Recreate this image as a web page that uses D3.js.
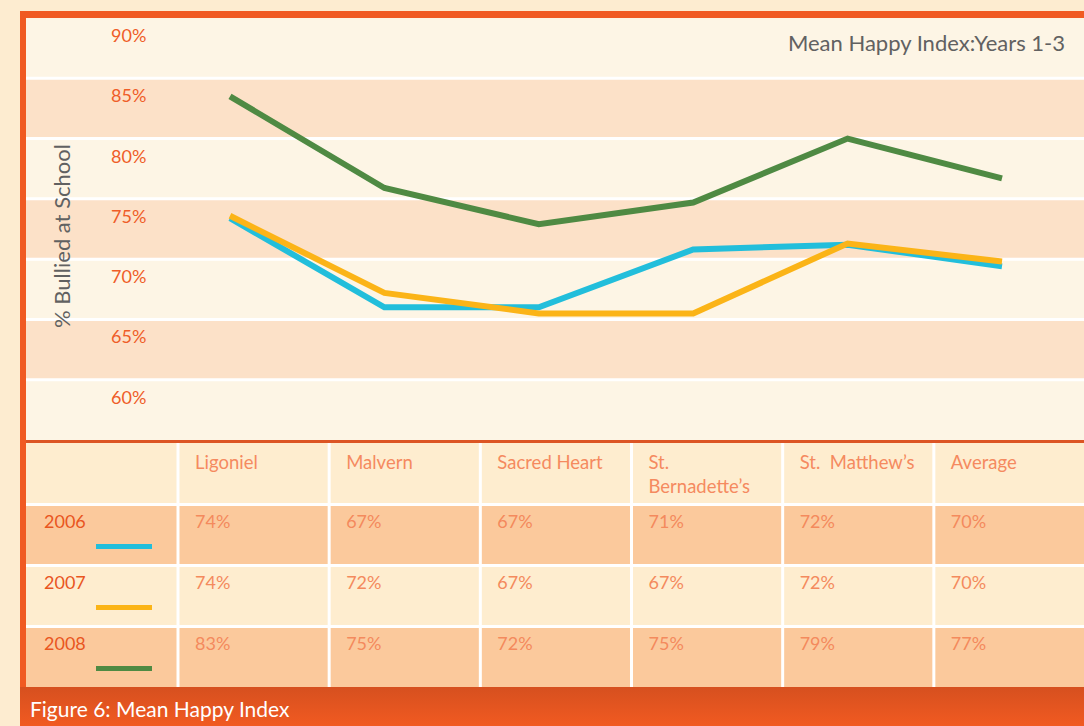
<!DOCTYPE html>
<html>
<head>
<meta charset="utf-8">
<script src="https://cdn.jsdelivr.net/npm/d3@7"></script>
<style>
  body { margin: 0; background: #fdecd0; }
  svg { display: block; font-family: Lato, "Open Sans", sans-serif; }
</style>
</head>
<body>
<svg id="chart" width="1084" height="726"></svg>
<script>
// schools along the x axis, and what the table header shows for them
const schools = ['Ligoniel', 'Malvern', 'Sacred Heart', "St. Bernadette's", "St. Matthew's", 'Average'];
const headerLabels = [['Ligoniel'], ['Malvern'], ['Sacred Heart'], ['St.', 'Bernadette\u2019s'], ['St.\u00a0 Matthew\u2019s'], ['Average']];
const years = ['2006', '2007', '2008'];

// values as printed in the table
const table2006 = [74, 67, 67, 71, 72, 70];
const table2007 = [74, 72, 67, 67, 72, 70];
const table2008 = [83, 75, 72, 75, 79, 77];

// values as the lines are actually plotted
const line2006 = [73.4, 66.0, 66.0, 70.8, 71.2, 69.4];
const line2007 = [73.6, 67.2, 65.5, 65.5, 71.3, 69.8];
const line2008 = [83.5, 75.9, 72.9, 74.7, 80.0, 76.7];

const yTicks = [60, 65, 70, 75, 80, 85, 90];
const yLabel = '% Bullied at School';
const title = 'Mean Happy Index:Years 1-3';
const caption = 'Figure 6: Mean Happy Index';

const colors = {'2006': '#22bedb', '2007': '#fbb417', '2008': '#4f8a43'};

const svg = d3.select('#chart');
const width = +svg.attr('width');
const height = +svg.attr('height');

const frame = {left: 20, top: 11, border: 6};
const plot = {left: 26, top: 17, right: width, bottom: 440};

// orange frame
svg.append('rect')
    .attr('x', frame.left).attr('y', frame.top)
    .attr('width', width - frame.left).attr('height', height - frame.top)
    .attr('fill', '#f05a22');

const y = d3.scaleLinear()
    .domain([55, 90])
    .range([plot.bottom, plot.top + 1]);

const x = d3.scalePoint()
    .domain(schools)
    .range([230, 1002]);

// alternating bands
const bandEdges = [55].concat(yTicks);
svg.append('g').selectAll('rect')
    .data(d3.pairs(bandEdges))
    .join('rect')
    .attr('x', plot.left)
    .attr('width', plot.right - plot.left)
    .attr('y', d => y(d[1]))
    .attr('height', d => y(d[0]) - y(d[1]))
    .attr('fill', (d, i) => i % 2 === 0 ? '#fdf5e5' : '#fce1c8');

// white separators
svg.append('g').selectAll('line')
    .data(yTicks.slice(0, -1))
    .join('line')
    .attr('x1', plot.left).attr('x2', plot.right)
    .attr('y1', d => y(d)).attr('y2', d => y(d))
    .attr('stroke', '#fff')
    .attr('stroke-width', 3);

// tick labels sit just below their gridline
svg.append('g').selectAll('text')
    .data(yTicks)
    .join('text')
    .attr('x', 111)
    .attr('y', d => y(d) + 24)
    .attr('fill', '#ef5d28')
    .attr('font-size', 18)
    .text(d => d + '%');

svg.append('text')
    .attr('transform', 'translate(70,236) rotate(-90)')
    .attr('text-anchor', 'middle')
    .attr('fill', '#616161')
    .attr('font-size', 22)
    .text(yLabel);

svg.append('text')
    .attr('x', 1065).attr('y', 51)
    .attr('text-anchor', 'end')
    .attr('fill', '#616161')
    .attr('font-size', 22)
    .text(title);

// lines
const series = [
    {year: '2008', values: line2008},
    {year: '2006', values: line2006},
    {year: '2007', values: line2007}
];
const line = d3.line()
    .x((d, i) => x(schools[i]))
    .y(d => y(d));

svg.append('g').selectAll('path')
    .data(series)
    .join('path')
    .attr('d', d => line(d.values))
    .attr('fill', 'none')
    .attr('stroke', d => colors[d.year])
    .attr('stroke-width', 6)
    .attr('stroke-linejoin', 'miter');

// table
const tableTop = 443;
const tableBottom = 687;
svg.append('rect')
    .attr('x', plot.left).attr('y', plot.bottom)
    .attr('width', plot.right - plot.left).attr('height', 3)
    .attr('fill', '#dc5524');

const rows = d3.scaleBand()
    .domain(['header'].concat(years))
    .range([tableTop, tableBottom]);
const cols = d3.scaleBand()
    .domain(schools)
    .range([177, width]);

svg.append('g').selectAll('rect')
    .data(rows.domain())
    .join('rect')
    .attr('x', plot.left)
    .attr('y', d => rows(d))
    .attr('width', plot.right - plot.left)
    .attr('height', rows.bandwidth())
    .attr('fill', (d, i) => i % 2 === 0 ? '#feedcf' : '#fbc99c');

svg.append('g').selectAll('line')
    .data(years)
    .join('line')
    .attr('x1', plot.left).attr('x2', plot.right)
    .attr('y1', d => rows(d) + 0.5).attr('y2', d => rows(d) + 0.5)
    .attr('stroke', '#fff').attr('stroke-width', 3);

svg.append('g').selectAll('line')
    .data(schools)
    .join('line')
    .attr('x1', d => cols(d) + 1).attr('x2', d => cols(d) + 1)
    .attr('y1', tableTop).attr('y2', tableBottom)
    .attr('stroke', '#fff').attr('stroke-width', 3);

// header
const head = svg.append('g').selectAll('text')
    .data(schools)
    .join('text')
    .attr('x', d => cols(d) + 18)
    .attr('y', rows('header') + 26)
    .attr('fill', '#f58a5f')
    .attr('font-size', 18.5);
head.selectAll('tspan')
    .data((d, i) => headerLabels[i])
    .join('tspan')
    .attr('x', function() { return d3.select(this.parentNode).attr('x'); })
    .attr('dy', (d, i) => i === 0 ? 0 : 24)
    .text(d => d);

// rows
const tableRows = [
    {year: '2006', values: table2006},
    {year: '2007', values: table2007},
    {year: '2008', values: table2008}
];
const rowG = svg.append('g').selectAll('g')
    .data(tableRows)
    .join('g')
    .attr('transform', d => `translate(0,${rows(d.year)})`);

rowG.append('text')
    .attr('x', 44).attr('y', 24)
    .attr('fill', '#e9561f')
    .attr('font-size', 18)
    .text(d => d.year);

rowG.append('rect')
    .attr('x', 96).attr('y', 40)
    .attr('width', 56).attr('height', 5)
    .attr('fill', d => colors[d.year]);

rowG.selectAll('text.val')
    .data(d => d.values)
    .join('text')
    .attr('class', 'val')
    .attr('x', (d, i) => cols(schools[i]) + 18)
    .attr('y', 24)
    .attr('fill', '#f48a5d')
    .attr('font-size', 18)
    .text(d => d + '%');

// caption bar
const grad = svg.append('defs').append('linearGradient')
    .attr('id', 'capGrad').attr('x1', 0).attr('y1', 0).attr('x2', 0).attr('y2', 1);
grad.append('stop').attr('offset', '0%').attr('stop-color', '#d6501f');
grad.append('stop').attr('offset', '100%').attr('stop-color', '#f15a21');

svg.append('rect')
    .attr('x', frame.left).attr('y', tableBottom)
    .attr('width', width - frame.left).attr('height', height - tableBottom)
    .attr('fill', 'url(#capGrad)');

svg.append('text')
    .attr('x', 30).attr('y', 717)
    .attr('fill', '#fff')
    .attr('font-size', 21)
    .text(caption);
</script>
</body>
</html>
